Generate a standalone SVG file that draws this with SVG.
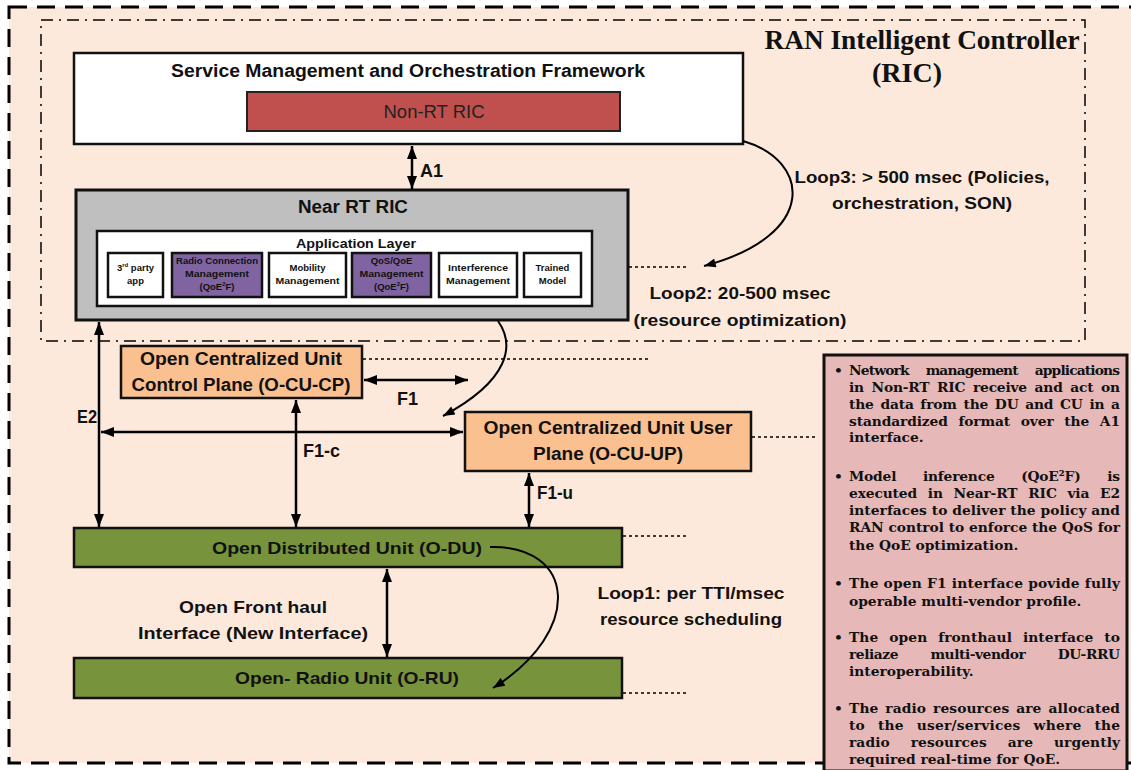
<svg xmlns="http://www.w3.org/2000/svg" width="1131" height="770" viewBox="0 0 1131 770">
<style>
.lbl{font-family:"Liberation Sans",Arial,sans-serif;font-weight:bold;fill:#111}
.sm{font-family:"Liberation Sans",Arial,sans-serif;font-weight:bold;font-size:9.5px;fill:#111;text-anchor:middle}
.box{stroke:#111;stroke-width:2.5}
.conn{stroke:#000;stroke-width:2.5;fill:none}
.curve{stroke:#000;stroke-width:2;fill:none}
.dot{stroke:#000;stroke-width:1.3;stroke-dasharray:3 3;fill:none}
.pt{font-family:"DejaVu Serif","Liberation Serif",serif;font-weight:bold;font-size:13.8px;fill:#111}
.ttl{font-family:"Liberation Serif","Times New Roman",serif;font-weight:bold;font-size:28px;fill:#111}
</style>
<defs>
<marker id="ah" viewBox="0 0 13 10" refX="13" refY="5" markerWidth="13" markerHeight="10" markerUnits="userSpaceOnUse" orient="auto-start-reverse"><path d="M0,0 L13,5 L0,10 z" fill="#000"/></marker>
<marker id="ahc" viewBox="0 0 13 10" refX="13" refY="5" markerWidth="13" markerHeight="9" markerUnits="userSpaceOnUse" orient="auto"><path d="M0,0 L13,5 L0,10 z" fill="#000"/></marker>
</defs>

<g id="background">
<rect x="9" y="7" width="1140" height="756" fill="#fde9db" stroke="#000" stroke-width="3" stroke-dasharray="18 10"/>
<rect x="41" y="20" width="1044" height="321" fill="none" stroke="#000" stroke-width="1.5" stroke-dasharray="12 6 2 6"/>
<text class="ttl" x="922" y="49" text-anchor="middle" textLength="315" lengthAdjust="spacingAndGlyphs">RAN Intelligent Controller</text>
<text class="ttl" x="907" y="82" text-anchor="middle">(RIC)</text>
</g>

<g id="smo">
<rect class="box" x="74" y="53" width="669" height="91" fill="#fff"/>
<text class="lbl" x="408" y="77" font-size="18" text-anchor="middle" textLength="474" lengthAdjust="spacingAndGlyphs">Service Management and Orchestration Framework</text>
</g>
<g id="non-rt-ric">
<rect x="247" y="92" width="373" height="39" fill="#c0504d" stroke="#222" stroke-width="2"/>
<text x="434" y="118" font-family="Liberation Sans,Arial,sans-serif" font-size="19" fill="#222" text-anchor="middle" textLength="101" lengthAdjust="spacingAndGlyphs">Non-RT RIC</text>
</g>

<g id="near-rt-ric">
<rect x="76" y="190" width="552" height="130" fill="#bfbfbf" stroke="#111" stroke-width="3"/>
<text class="lbl" x="353" y="213" font-size="18" text-anchor="middle" textLength="110" lengthAdjust="spacingAndGlyphs">Near RT RIC</text>
</g>
<g id="app-layer">
<rect class="box" x="97" y="231" width="495" height="75" fill="#fff"/>
<text class="lbl" x="356" y="248" font-size="13.5" text-anchor="middle" textLength="120" lengthAdjust="spacingAndGlyphs">Application Layer</text>
</g>
<g id="app-3rd-party">
<rect class="box" x="108" y="253" width="55" height="44" fill="#fff"/>
<text class="sm" x="135.5" y="271" font-size="10">3<tspan font-size="6" dy="-4">rd</tspan><tspan dy="4"> party</tspan></text>
<text class="sm" x="135.5" y="284" font-size="10">app</text>
</g>
<g id="app-radio-conn">
<rect class="box" x="172" y="253" width="90" height="44" fill="#8064a2"/>
<text class="sm" x="217" y="264" textLength="82" lengthAdjust="spacingAndGlyphs">Radio Connection</text>
<text class="sm" x="217" y="277" textLength="64" lengthAdjust="spacingAndGlyphs">Management</text>
<text class="sm" x="217" y="290">(QoE<tspan font-size="6" dy="-4">2</tspan><tspan dy="4">F)</tspan></text>
</g>
<g id="app-mobility">
<rect class="box" x="269" y="253" width="77" height="44" fill="#fff"/>
<text class="sm" x="307.5" y="271">Mobility</text>
<text class="sm" x="307.5" y="284" textLength="64" lengthAdjust="spacingAndGlyphs">Management</text>
</g>
<g id="app-qos">
<rect class="box" x="352" y="253" width="79" height="44" fill="#8064a2"/>
<text class="sm" x="391.5" y="264">QoS/QoE</text>
<text class="sm" x="391.5" y="277" textLength="64" lengthAdjust="spacingAndGlyphs">Management</text>
<text class="sm" x="391.5" y="290">(QoE<tspan font-size="6" dy="-4">2</tspan><tspan dy="4">F)</tspan></text>
</g>
<g id="app-interference">
<rect class="box" x="439" y="253" width="78" height="44" fill="#fff"/>
<text class="sm" x="478" y="271" textLength="60" lengthAdjust="spacingAndGlyphs">Interference</text>
<text class="sm" x="478" y="284" textLength="64" lengthAdjust="spacingAndGlyphs">Management</text>
</g>
<g id="app-trained">
<rect class="box" x="524" y="253" width="57" height="44" fill="#fff"/>
<text class="sm" x="552.5" y="271">Trained</text>
<text class="sm" x="552.5" y="284">Model</text>
</g>

<g id="o-cu-cp">
<rect class="box" x="121" y="346" width="241" height="52" fill="#fac090"/>
<text class="lbl" x="241" y="365" font-size="18" text-anchor="middle" textLength="202" lengthAdjust="spacingAndGlyphs">Open Centralized Unit</text>
<text class="lbl" x="241" y="391" font-size="18" text-anchor="middle" textLength="219" lengthAdjust="spacingAndGlyphs">Control Plane (O-CU-CP)</text>
</g>
<g id="o-cu-up">
<rect class="box" x="465" y="412" width="286" height="59" fill="#fac090"/>
<text class="lbl" x="608" y="434" font-size="18" text-anchor="middle" textLength="249" lengthAdjust="spacingAndGlyphs">Open Centralized Unit User</text>
<text class="lbl" x="608" y="460" font-size="18" text-anchor="middle" textLength="150" lengthAdjust="spacingAndGlyphs">Plane (O-CU-UP)</text>
</g>
<g id="o-du">
<rect class="box" x="74" y="528" width="548" height="39" fill="#77933c"/>
<text class="lbl" x="347" y="554" font-size="17" text-anchor="middle" textLength="270" lengthAdjust="spacingAndGlyphs">Open Distributed Unit (O-DU)</text>
</g>
<g id="o-ru">
<rect class="box" x="74" y="658" width="548" height="40" fill="#77933c"/>
<text class="lbl" x="347" y="684" font-size="17" text-anchor="middle" textLength="224" lengthAdjust="spacingAndGlyphs">Open- Radio Unit (O-RU)</text>
</g>

<g id="connectors">
<line class="conn" x1="412" y1="146" x2="412" y2="189" marker-start="url(#ah)" marker-end="url(#ah)"/>
<line class="conn" x1="99" y1="322" x2="99" y2="527" marker-start="url(#ah)" marker-end="url(#ah)"/>
<line class="conn" x1="101" y1="432" x2="463" y2="432" marker-start="url(#ah)" marker-end="url(#ah)"/>
<line class="conn" x1="296" y1="400" x2="296" y2="527" marker-start="url(#ah)" marker-end="url(#ah)"/>
<line class="conn" x1="364" y1="380" x2="468" y2="380" marker-start="url(#ah)" marker-end="url(#ah)"/>
<line class="conn" x1="529" y1="473" x2="529" y2="527" marker-start="url(#ah)" marker-end="url(#ah)"/>
<line class="conn" x1="387" y1="569" x2="387" y2="657" marker-start="url(#ah)" marker-end="url(#ah)"/>
<path class="curve" d="M743,141 C810,160 820,235 704,266" marker-end="url(#ahc)"/>
<path class="curve" d="M498,321 C515,345 510,380 443,416" marker-end="url(#ahc)"/>
<path class="curve" d="M490,547 C575,545 585,630 493,688" marker-end="url(#ahc)"/>
<line class="dot" x1="629" y1="267" x2="686" y2="267"/>
<line class="dot" x1="363" y1="359" x2="648" y2="359"/>
<line class="dot" x1="752" y1="437" x2="815" y2="437"/>
<line class="dot" x1="623" y1="536" x2="686" y2="536"/>
<line class="dot" x1="623" y1="693" x2="686" y2="693"/>
</g>

<g id="connector-labels">
<text class="lbl" x="420" y="177" font-size="18" textLength="23" lengthAdjust="spacingAndGlyphs">A1</text>
<text class="lbl" x="77" y="423" font-size="18" textLength="20" lengthAdjust="spacingAndGlyphs">E2</text>
<text class="lbl" x="397" y="405" font-size="18" textLength="21" lengthAdjust="spacingAndGlyphs">F1</text>
<text class="lbl" x="303" y="457" font-size="18" textLength="37" lengthAdjust="spacingAndGlyphs">F1-c</text>
<text class="lbl" x="537" y="499" font-size="18" textLength="36" lengthAdjust="spacingAndGlyphs">F1-u</text>
<text class="lbl" x="253" y="613" font-size="17" text-anchor="middle" textLength="148" lengthAdjust="spacingAndGlyphs">Open Front haul</text>
<text class="lbl" x="253" y="639" font-size="17" text-anchor="middle" textLength="230" lengthAdjust="spacingAndGlyphs">Interface (New Interface)</text>
<text class="lbl" x="922" y="183" font-size="17" text-anchor="middle" textLength="255" lengthAdjust="spacingAndGlyphs">Loop3: &gt; 500 msec (Policies,</text>
<text class="lbl" x="922" y="209" font-size="17" text-anchor="middle" textLength="180" lengthAdjust="spacingAndGlyphs">orchestration, SON)</text>
<text class="lbl" x="740" y="299" font-size="17" text-anchor="middle" textLength="181" lengthAdjust="spacingAndGlyphs">Loop2: 20-500 msec</text>
<text class="lbl" x="740" y="326" font-size="17" text-anchor="middle" textLength="213" lengthAdjust="spacingAndGlyphs">(resource optimization)</text>
<text class="lbl" x="691" y="599" font-size="17" text-anchor="middle" textLength="187" lengthAdjust="spacingAndGlyphs">Loop1: per TTI/msec</text>
<text class="lbl" x="691" y="625" font-size="17" text-anchor="middle" textLength="182" lengthAdjust="spacingAndGlyphs">resource scheduling</text>
</g>

<g id="notes">
<rect x="824" y="355" width="303" height="416" fill="#e6b9b8" stroke="#111" stroke-width="3"/>
<g class="pt">
<text x="834" y="375">•</text>
<text x="849" y="375" word-spacing="13" textLength="271" lengthAdjust="spacing">Network management applications</text>
<text x="849" y="392" word-spacing="3" textLength="271" lengthAdjust="spacing">in Non-RT RIC receive and act on</text>
<text x="849" y="409" word-spacing="2" textLength="271" lengthAdjust="spacing">the data from the DU and CU in a</text>
<text x="849" y="426" word-spacing="6" textLength="271" lengthAdjust="spacing">standardized format over the A1</text>
<text x="849" y="442">interface.</text>
<text x="834" y="481">•</text>
<text x="849" y="481" word-spacing="22" textLength="271" lengthAdjust="spacing">Model inference (QoE²F) is</text>
<text x="849" y="498" word-spacing="6" textLength="271" lengthAdjust="spacing">executed in Near-RT RIC via E2</text>
<text x="849" y="515" textLength="271" lengthAdjust="spacing">interfaces to deliver the policy and</text>
<text x="849" y="532" textLength="271" lengthAdjust="spacing">RAN control to enforce the QoS for</text>
<text x="849" y="550">the QoE optimization.</text>
<text x="834" y="588">•</text>
<text x="849" y="588" textLength="271" lengthAdjust="spacing">The open F1 interface povide fully</text>
<text x="849" y="606">operable multi-vendor profile.</text>
<text x="834" y="642">•</text>
<text x="849" y="642" word-spacing="6" textLength="271" lengthAdjust="spacing">The open fronthaul interface to</text>
<text x="849" y="659" word-spacing="28" textLength="271" lengthAdjust="spacing">reliaze multi-vendor DU-RRU</text>
<text x="849" y="676">interoperability.</text>
<text x="834" y="713">•</text>
<text x="849" y="713" word-spacing="2" textLength="271" lengthAdjust="spacing">The radio resources are allocated</text>
<text x="849" y="730" word-spacing="8" textLength="271" lengthAdjust="spacing">to the user/services where the</text>
<text x="849" y="747" word-spacing="16" textLength="271" lengthAdjust="spacing">radio resources are urgently</text>
<text x="849" y="764">required real-time for QoE.</text>
</g>
</g>
</svg>
